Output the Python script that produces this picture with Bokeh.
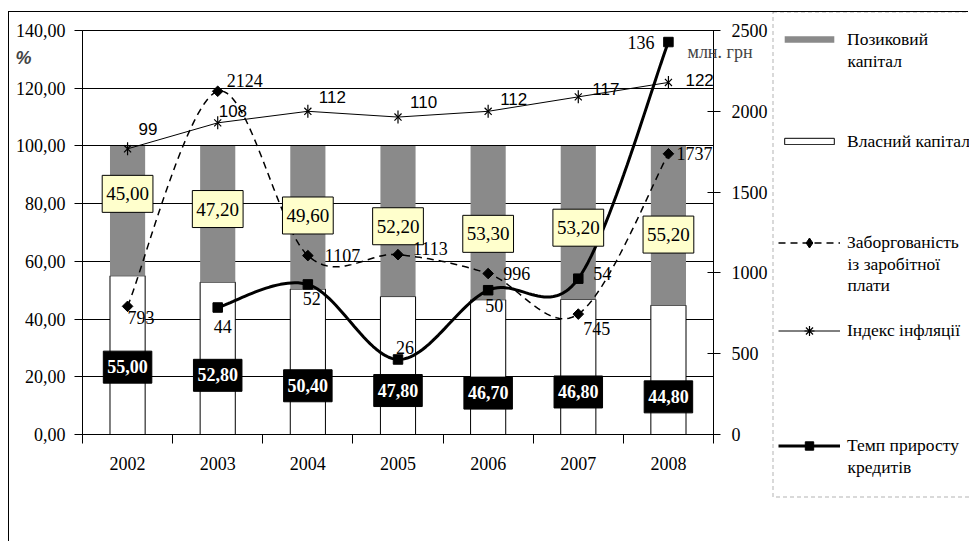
import numpy as np
from bokeh.plotting import figure
from bokeh.models import (ColumnDataSource, Range1d, LinearAxis, FixedTicker, LabelSet, Label,
                          Legend, LegendItem, BoxAnnotation)
from bokeh.embed import file_html
from bokeh.resources import INLINE
from bokeh.core.properties import value

# ---------------- data ----------------
years = ["2002", "2003", "2004", "2005", "2006", "2007", "2008"]
own_capital = [55.0, 52.8, 50.4, 47.8, 46.7, 46.8, 44.8]      # Власний капітал, %
loan_capital = [45.0, 47.2, 49.6, 52.2, 53.3, 53.2, 55.2]     # Позиковий капітал, %
wage_arrears = [793, 2124, 1107, 1113, 996, 745, 1737]        # млн. грн
inflation = [99, 108, 112, 110, 112, 117, 122]                 # %
credit_years = ["2003", "2004", "2005", "2006", "2007", "2008"]
credit_growth = [44, 52, 26, 50, 54, 136]                       # %
pct_ticks = [0, 20, 40, 60, 80, 100, 120, 140]
uah_ticks = [0, 500, 1000, 1500, 2000, 2500]
legend_labels = ["Позиковий\nкапітал", "Власний капітал", "Заборгованість\nіз заробітної\nплати",
                 "Індекс інфляції", "Темп приросту\nкредитів"]

# ---------------- label placement (pixel offsets, styling only; + = up) ----------------
loan_lbl_dy = [17, 5, 2, -5, -11, -5, -9]
own_lbl_dy = [-12, -17, -24, -25, -26, -25, -27]
wage_lbl_dx = [0, 9, 17, 15, 15, 5, 8]
wage_lbl_dy = [-11, 11, 0, 6, 0, -14, 0]
infl_lbl_dx = [11, 1, 11, 12, 12, 14, 17]
infl_lbl_dy = [20, 12, 14, 15, 12, 8, 2]
cred_lbl_dx = [-4, -5, -2, -3, 15, -41]
cred_lbl_dy = [-19, -14, 12, -15, 5, 0]
legend_line_px = [40, 142, 243, 331, 446]   # first text line of each legend entry (px from top)
legend_glyph_h = [8, 8, 25, 25, 21]         # legend sample box heights

SERIF = "Liberation Serif"
SANS = "Liberation Sans"
W, H = 960, 530
TOP = 12       # page y of the canvases' top edge
LEFT = 9       # page x of the canvases' left edge

def fmt(v):
    return f"{v:.2f}".replace(".", ",")

def smooth(xs, ys, n=30):
    """Excel-like smoothed line (Bezier through the points)."""
    P = np.column_stack([np.asarray(xs, float), np.asarray(ys, float)])
    Pe = np.vstack([P[0], P, P[-1]])
    t = np.linspace(0, 1, n)[:, None]
    out = []
    for i in range(len(P) - 1):
        p0, p3 = Pe[i + 1], Pe[i + 2]
        c1 = p0 + (Pe[i + 2] - Pe[i]) / 6.0
        c2 = p3 - (Pe[i + 3] - Pe[i + 1]) / 6.0
        seg = (1 - t) ** 3 * p0 + 3 * (1 - t) ** 2 * t * c1 + 3 * (1 - t) * t ** 2 * c2 + t ** 3 * p3
        out.append(seg if i == 0 else seg[1:])
    a = np.vstack(out)
    return a[:, 0], a[:, 1]

xc = [i + 0.5 for i in range(len(years))]
cx = [xc[years.index(y)] for y in credit_years]

# ---------------- main figure ----------------
p = figure(width=W, height=H, x_range=Range1d(0, 7), y_range=Range1d(0, 140),
           output_backend="svg", toolbar_location=None,
           min_border_left=73, min_border_right=256, min_border_top=18, min_border_bottom=108)
p.styles = {"border-left": "1px solid black", "border-top": "1px solid black",
            "margin-top": "11px", "margin-left": "8px"}
p.extra_y_ranges = {"uah": Range1d(0, 2500)}
p.outline_line_color = "black"
p.background_fill_color = "white"
p.border_fill_color = "white"

p.xgrid.visible = False
p.ygrid.grid_line_color = "black"
p.ygrid.grid_line_width = 1

ya = p.yaxis[0]
ya.ticker = FixedTicker(ticks=pct_ticks)
ya.major_label_overrides = {t: fmt(t) for t in pct_ticks}
ya.minor_tick_line_color = None
ya.major_tick_in = 0
ya.major_tick_out = 8
ya.major_label_standoff = 9
ya.major_label_text_font = SERIF
ya.major_label_text_font_size = "18px"
ya.major_label_text_color = "black"

ra = LinearAxis(y_range_name="uah", ticker=FixedTicker(ticks=uah_ticks))
ra.minor_tick_line_color = None
ra.major_tick_in = 6
ra.major_tick_out = 7
ra.major_label_standoff = 11
ra.major_label_text_font = SERIF
ra.major_label_text_font_size = "18px"
ra.major_label_text_color = "black"
p.add_layout(ra, "right")

xa = p.xaxis[0]
xa.ticker = FixedTicker(ticks=xc, minor_ticks=list(range(len(years) + 1)))
xa.major_label_overrides = {x: y for x, y in zip(xc, years)}
xa.major_tick_line_color = None
xa.major_tick_in = 0
xa.major_tick_out = 9
xa.minor_tick_in = 0
xa.minor_tick_out = 9
xa.minor_tick_line_color = "black"
xa.major_label_standoff = 13
xa.major_label_text_font = SERIF
xa.major_label_text_font_size = "18px"
xa.major_label_text_color = "black"

# ---------------- bars ----------------
total = [o + l for o, l in zip(own_capital, loan_capital)]
bars = ColumnDataSource(dict(x=xc, own=own_capital, loan=loan_capital, total=total,
                             own_mid=[o / 2 for o in own_capital],
                             loan_mid=[o + l / 2 for o, l in zip(own_capital, loan_capital)],
                             own_txt=[fmt(v) for v in own_capital],
                             loan_txt=[fmt(v) for v in loan_capital],
                             own_dy=[-d for d in own_lbl_dy], loan_dy=[-d for d in loan_lbl_dy]))
BAR_W = 0.39
LOAN_COLOR = "#8a8a8a"
OWN_STYLE = dict(fill_color="white", line_color="black", line_width=1)
LOAN_STYLE = dict(fill_color=LOAN_COLOR, line_color=None)
p.vbar(x="x", width=BAR_W, bottom=0, top="own", source=bars, **OWN_STYLE)
p.vbar(x="x", width=BAR_W, bottom="own", top="total", source=bars, **LOAN_STYLE)

# ---------------- lines ----------------
W_STYLE = dict(line_color="black", line_width=1.5, line_dash="7 5")
W_MARK = dict(marker="square", angle=np.pi / 4, size=7.5, fill_color="black", line_color="black")
I_STYLE = dict(line_color="black", line_width=1)
I_X = dict(marker="x", size=10, line_color="black", line_width=1.2)
I_V = dict(marker="dash", size=13, angle=np.pi / 2, line_color="black", line_width=1.2)
C_STYLE = dict(line_color="black", line_width=3)
C_MARK = dict(marker="square", size=9.5, fill_color="black", line_color="black")

wx, wy = smooth(xc, wage_arrears)
p.line(wx, wy, y_range_name="uah", **W_STYLE)
p.scatter(xc, wage_arrears, y_range_name="uah", **W_MARK)

p.line(xc, inflation, **I_STYLE)
p.scatter(xc, inflation, **I_X)
p.scatter(xc, inflation, **I_V)

kx, ky = smooth(cx, credit_growth)
p.line(kx, ky, **C_STYLE)
p.scatter(cx, credit_growth, **C_MARK)

# ---------------- boxed value labels ----------------
p.text(x="x", y="loan_mid", text="loan_txt", source=bars, y_offset="loan_dy",
       text_align="center", text_baseline="middle",
       text_font=value(SERIF), text_font_size="19px", text_color="black",
       background_fill_color="#ffffcc", border_line_color="black", border_line_width=1,
       padding=dict(left=4, right=4, top=12, bottom=12))
p.text(x="x", y="own_mid", text="own_txt", source=bars, y_offset="own_dy",
       text_align="center", text_baseline="middle",
       text_font=value(SERIF), text_font_size="18px", text_font_style="bold",
       text_color="white", background_fill_color="black", border_line_color="black",
       padding=dict(left=4, right=4, top=9, bottom=10))

# ---------------- point labels ----------------
wsrc = ColumnDataSource(dict(x=xc, y=wage_arrears, t=[str(v) for v in wage_arrears],
                             dx=wage_lbl_dx, dy=wage_lbl_dy))
p.add_layout(LabelSet(x="x", y="y", text="t", source=wsrc, y_range_name="uah",
                      x_offset="dx", y_offset="dy", text_align="left", text_baseline="middle",
                      text_font=value(SERIF), text_font_size="18px", text_color="black"))
isrc = ColumnDataSource(dict(x=xc, y=inflation, t=[str(v) for v in inflation],
                             dx=infl_lbl_dx, dy=infl_lbl_dy))
p.add_layout(LabelSet(x="x", y="y", text="t", source=isrc,
                      x_offset="dx", y_offset="dy", text_align="left", text_baseline="middle",
                      text_font=value(SANS), text_font_size="17px", text_color="black"))
csrc = ColumnDataSource(dict(x=cx, y=credit_growth, t=[str(v) for v in credit_growth],
                             dx=cred_lbl_dx, dy=cred_lbl_dy))
p.add_layout(LabelSet(x="x", y="y", text="t", source=csrc,
                      x_offset="dx", y_offset="dy", text_align="left", text_baseline="middle",
                      text_font=value(SERIF), text_font_size="18px", text_color="black"))

# ---------------- overlay (captions + legend, outside the plot frame) ----------------
ov = figure(width=W, height=H, x_range=Range1d(0, W), y_range=Range1d(H, 0),
            x_axis_type=None, y_axis_type=None, output_backend="svg", toolbar_location=None,
            min_border_left=0, min_border_right=0, min_border_top=0, min_border_bottom=0)
ov.outline_line_color = None
ov.background_fill_color = None
ov.border_fill_color = None
ov.styles = {"margin-top": f"-{H}px", "margin-left": f"{LEFT}px"}

ov.add_layout(Label(x=15 - LEFT, y=58 - TOP, text="%", text_font=SANS, text_font_size="18px",
                    text_font_style="bold italic", text_baseline="middle", text_align="left"))
ov.add_layout(Label(x=687 - LEFT, y=52 - TOP, text="млн. грн", text_font=SERIF,
                    text_font_size="18px", text_baseline="middle", text_align="left"))

ov.add_layout(BoxAnnotation(left=772.5 - LEFT, right=1200, top=0.5, bottom=497.5 - TOP,
                            fill_alpha=0, line_color="black", line_width=1, line_dash="4 3"))

# legend samples: style-only renderers (NaN data, never drawn in the plot)
nan = dict(x=[np.nan], y=[np.nan])
g_loan = ov.vbar(x=[np.nan], top=[np.nan], width=1, **LOAN_STYLE)
g_own = ov.vbar(x=[np.nan], top=[np.nan], width=1, **OWN_STYLE)
g_wl = ov.line(**nan, **W_STYLE)
g_wm = ov.scatter(**nan, marker="diamond", fill_color="black", line_color="black")
g_il = ov.line(**nan, **I_STYLE)
g_ia = ov.scatter(**nan, marker="asterisk", line_color="black", line_width=1.2)
g_cl = ov.line(**nan, **C_STYLE)
g_cm = ov.scatter(**nan, **C_MARK)
legend_renderers = [[g_loan], [g_own], [g_wl, g_wm], [g_il, g_ia], [g_cl, g_cm]]

LEG_FS = 17.5
LINE_H = round(1.2 * LEG_FS)
GLYPH_X = 778      # page x of legend samples
TEXT_X = 847       # page x of legend texts
for lab, rends, first, gh in zip(legend_labels, legend_renderers, legend_line_px, legend_glyph_h):
    lines = lab.split("\n")
    item_h = max(gh, LINE_H)
    bottom_px = first + item_h / 2
    ov.add_layout(Legend(items=[LegendItem(label=lines[0], renderers=rends)],
                         location=(GLYPH_X - LEFT, H - (bottom_px - TOP)),
                         glyph_width=62, glyph_height=gh, label_standoff=TEXT_X - GLYPH_X - 62,
                         label_height=LINE_H, spacing=0, padding=0, margin=0,
                         border_line_color=None, background_fill_alpha=0,
                         label_text_font=SERIF, label_text_font_size=f"{LEG_FS}px",
                         label_text_color="black"), "center")
    for k, extra in enumerate(lines[1:], start=1):
        ov.add_layout(Label(x=TEXT_X - LEFT, y=first + k * LINE_H - TOP, text=extra,
                            text_font=SERIF, text_font_size=f"{LEG_FS}px", text_color="black",
                            text_baseline="middle", text_align="left"))

open("out.html", "w").write(file_html([p, ov], INLINE))
